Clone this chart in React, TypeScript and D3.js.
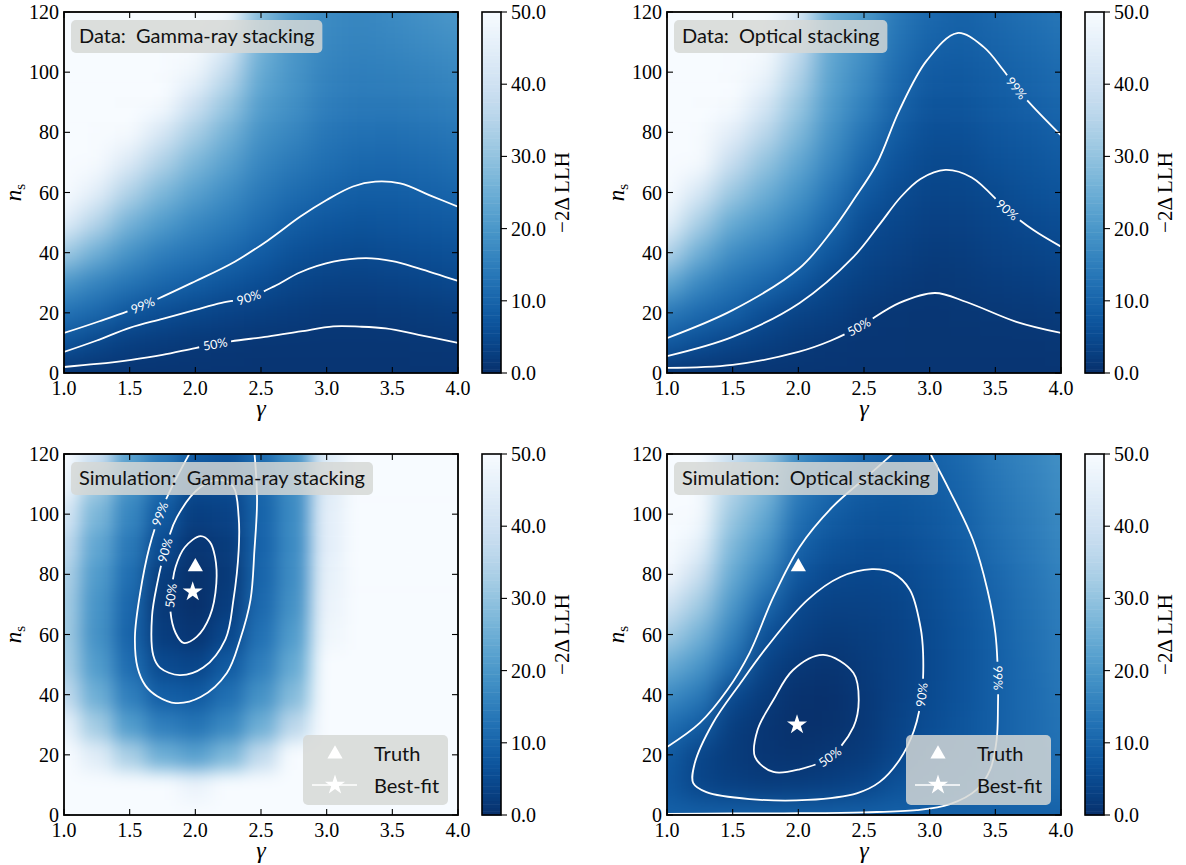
import React, { useEffect, useRef } from 'react';
import * as d3 from 'd3';

// grid of the likelihood scans
const gammaGrid = [1.0, 1.25, 1.5, 1.75, 2.0, 2.25, 2.5, 2.75, 3.0, 3.25, 3.5, 3.75, 4.0];
const nsGrid = [0, 10, 20, 30, 40, 50, 60, 70, 80, 90, 100, 110, 120];

const gammaTicks = [1.0, 1.5, 2.0, 2.5, 3.0, 3.5, 4.0];
const nsTicks = [0, 20, 40, 60, 80, 100, 120];
const llhTicks = [0, 10, 20, 30, 40, 50];

// -2 dLLH: one row per gamma in gammaGrid, one value per ns in nsGrid
const dataGammaLLH = [
  [1, 6.8, 12.5, 20, 32, 45, 55, 62, 70, 75, 80, 85, 90],
  [1, 4.3, 10.5, 16, 25, 35, 45, 54, 63, 70, 76, 80, 85],
  [1, 2.7, 7.2, 13, 19, 26, 34, 43, 52, 60, 68, 74, 80],
  [1, 2.1, 5.6, 10.5, 15, 21, 27, 34, 42, 50, 58, 65, 72],
  [1, 1.6, 4.3, 8.8, 13, 17, 22, 27, 33, 40, 48, 55, 62],
  [1, 1.4, 3.5, 7, 11, 14.5, 18, 22, 26, 31, 37, 44, 51],
  [1, 1.2, 2.9, 5.6, 8.5, 11.5, 14, 16.5, 19, 21.5, 24, 26, 28],
  [1, 1.15, 2.3, 4.1, 6.2, 8.8, 11.5, 14, 16.5, 18.5, 19.5, 20, 20],
  [1, 1.1, 1.75, 3.4, 5.3, 7.5, 9.9, 12, 13.5, 15, 16, 17, 17.5],
  [1, 1.1, 1.75, 3.2, 4.9, 6.8, 8.7, 10.7, 12.5, 14, 15, 16, 16.5],
  [1, 1.15, 1.9, 3.5, 5.3, 7.1, 8.7, 10.6, 12.3, 14, 15.3, 16.5, 17.5],
  [1, 1.25, 2.2, 3.9, 5.8, 7.7, 9.3, 11.2, 12.9, 14.5, 16, 17.5, 18.8],
  [1, 1.39, 2.7, 4.5, 6.3, 8.2, 10.2, 12, 13.7, 15.3, 17, 18.5, 20],
];

const dataOpticalLLH = [
  [1, 8, 14, 24, 35, 46, 55, 62, 70, 76, 80, 84, 88],
  [1, 5.8, 11, 17, 25, 33, 42, 50, 58, 65, 72, 78, 83],
  [1, 3.9, 9.0, 13, 18, 24, 31, 38, 45, 52, 60, 66, 72],
  [1, 2.8, 5.6, 10.5, 15, 20, 25, 30, 36, 42, 48, 53, 58],
  [1, 1.8, 3.6, 7.5, 11.5, 15.5, 19.5, 23.5, 27.5, 31, 35, 39, 43],
  [1, 1.35, 2.8, 4.3, 7.2, 10.5, 13.5, 16.5, 19, 21, 22.5, 23.5, 24],
  [1, 1.15, 1.6, 3.0, 4.1, 5.5, 7.9, 10.5, 13, 15.5, 17.5, 19, 20.5],
  [1, 1.1, 1.3, 2.1, 3.3, 4.2, 5.3, 6.7, 8.4, 10, 11.5, 12.8, 14],
  [1, 1.05, 1.2, 1.5, 2.2, 3.1, 4.0, 4.9, 5.9, 7.0, 8.3, 9.7, 11],
  [1, 1.05, 1.25, 1.8, 2.5, 3.3, 4.1, 5.0, 6.0, 7.0, 8.0, 9.0, 9.5],
  [1, 1.1, 1.45, 2.3, 3.2, 3.9, 4.9, 6.3, 7.3, 8.2, 9.0, 10.0, 11.0],
  [1, 1.15, 1.7, 2.7, 3.7, 4.8, 6.0, 7.0, 8.1, 9.2, 10.2, 11.2, 12.2],
  [1, 1.25, 2.0, 3.2, 4.4, 5.6, 6.8, 8.1, 9.2, 10.3, 11.4, 12.5, 13.5],
];

const simGammaLLH = [
  [75, 66, 56, 46, 37, 33, 32, 32.5, 34, 37, 42, 48, 55],
  [70, 62, 44, 32, 25, 21, 19, 19.5, 21, 23.5, 27, 32, 40],
  [65, 58, 33, 21, 15, 11.5, 10, 10.5, 12, 14, 16.5, 19.5, 22],
  [60, 51, 25, 15, 8.8, 4.9, 2.5, 1.7, 2.6, 5.2, 8.0, 11.5, 15],
  [60, 47, 22, 13, 8.0, 4.0, 1.2, 0.1, 0.3, 1.2, 2.8, 5.2, 8.5],
  [65, 53, 27, 17, 12, 8.0, 4.4, 2.5, 1.8, 2.2, 3.5, 5.2, 7],
  [70, 60, 37, 25, 19, 15, 12.5, 11, 10.2, 9.8, 9.9, 10.5, 11.5],
  [75, 68, 50, 36, 28, 24, 21, 19, 18, 17.5, 17.5, 18, 19],
  [80, 75, 66, 58, 53, 50, 48, 47, 46, 45, 45, 44, 44],
  [80, 80, 80, 80, 80, 80, 80, 80, 80, 80, 80, 80, 80],
  [80, 80, 80, 80, 80, 80, 80, 80, 80, 80, 80, 80, 80],
  [80, 80, 80, 80, 80, 80, 80, 80, 80, 80, 80, 80, 80],
  [80, 80, 80, 80, 80, 80, 80, 80, 80, 80, 80, 80, 80],
];

const simOpticalLLH = [
  [9.3, 7.5, 8.4, 12, 18, 25, 33, 41, 49, 55, 60, 65, 70],
  [9.3, 4.0, 3.9, 8.8, 14, 20, 26, 32, 39, 46, 52, 57, 62],
  [9.3, 2.8, 2.0, 2.6, 5.0, 11.5, 16, 20, 24, 27, 31, 35, 39],
  [9.3, 2.2, 1.2, 1.1, 2.0, 3.6, 6.0, 11, 16, 20, 24, 28, 32],
  [9.3, 2.4, 0.7, 0.05, 0.4, 1.5, 3.2, 4.5, 7.3, 9.6, 12.5, 15, 18],
  [9.3, 2.8, 1.3, 0.3, 0.2, 0.9, 2.1, 3.4, 4.8, 6.6, 8.8, 11, 13.5],
  [9.3, 4.0, 2.1, 1.6, 1.6, 2.0, 2.6, 3.4, 4.4, 5.6, 7.0, 8.6, 10.5],
  [9.3, 6.5, 4.2, 3.6, 3.2, 3.2, 3.5, 4.0, 4.8, 5.8, 6.8, 7.8, 8.8],
  [9.3, 7.8, 6.5, 5.6, 5.0, 4.8, 5.0, 5.5, 6.1, 6.9, 7.8, 8.6, 9.3],
  [9.3, 8.6, 7.6, 7.0, 6.7, 6.6, 6.8, 7.3, 7.9, 8.6, 9.3, 10.2, 11.2],
  [9.3, 9.5, 9.4, 9.05, 8.95, 8.95, 9.15, 9.8, 10.6, 11.5, 12.4, 13.3, 14.2],
  [9.3, 10.5, 10.8, 11, 11.2, 11.4, 11.8, 12.4, 13.1, 13.8, 14.6, 15.4, 16.2],
  [9.3, 11.5, 12.2, 12.8, 13.3, 13.8, 14.4, 15, 15.7, 16.4, 17.1, 17.8, 18.5],
];

// contour lines [gamma, ns]
const dataGamma50 = [[1.0, 2.0], [1.25, 3.0], [1.5, 4.3], [1.75, 6.0], [2.0, 8.3], [2.25, 10.4], [2.55, 12.1], [2.8, 13.8], [3.05, 15.5], [3.25, 15.4], [3.45, 14.8], [3.7, 12.7], [4.0, 10.0]];
const dataGamma90 = [[1.0, 7.0], [1.25, 10.8], [1.5, 15.0], [1.75, 18.0], [2.0, 21.0], [2.2, 23.3], [2.4, 25.0], [2.6, 28.8], [2.8, 33.5], [3.05, 37.0], [3.3, 38.2], [3.5, 37.2], [3.7, 34.8], [4.0, 30.6]];
const dataGamma99 = [[1.0, 13.3], [1.27, 17.2], [1.6, 22.5], [2.0, 30.5], [2.3, 37.0], [2.55, 44.0], [2.8, 52.0], [3.0, 57.5], [3.2, 62.0], [3.37, 63.6], [3.56, 63.0], [3.8, 58.8], [4.0, 55.3]];

const dataOptical50 = [[1.0, 1.7], [1.5, 2.7], [2.0, 7.0], [2.25, 10.8], [2.46, 15.3], [2.77, 23.3], [3.04, 26.6], [3.28, 23.6], [3.66, 17.0], [4.0, 13.3]];
const dataOptical90 = [[1.0, 5.6], [1.5, 12.0], [2.01, 23.3], [2.42, 38.6], [2.62, 49.5], [2.78, 58.5], [2.93, 64.5], [3.12, 67.5], [3.32, 65.0], [3.59, 54.2], [3.79, 47.5], [4.0, 42.0]];
const dataOptical99 = [[1.0, 11.6], [1.5, 20.9], [2.01, 34.9], [2.26, 47.5], [2.42, 57.5], [2.6, 69.8], [2.77, 87.4], [2.98, 104], [3.21, 113], [3.41, 108.4], [3.56, 100.7], [3.66, 94.7], [3.79, 88.4], [4.0, 79.0]];

const simGamma50 = [[2.04, 92.7], [2.11, 90.8], [2.15, 85.8], [2.16, 77], [2.11, 66], [2.01, 59.2], [1.91, 57.2], [1.85, 60.5], [1.81, 68], [1.82, 75], [1.85, 82.5], [1.92, 89]];
const simGamma90 = [[2.19, 111.4], [2.29, 109], [2.33, 99], [2.33, 88], [2.29, 71.5], [2.23, 58.5], [2.06, 49], [1.88, 46.5], [1.73, 49], [1.68, 53], [1.67, 66], [1.71, 77], [1.77, 88], [1.86, 99], [2.04, 109]];
const simGamma99 = [[1.96, 120.5], [1.81, 108], [1.73, 100], [1.65, 89], [1.58, 73.8], [1.54, 59.2], [1.56, 49], [1.62, 43], [1.71, 39.5], [1.85, 37.2], [2.04, 39.2], [2.24, 47.2], [2.34, 58.2], [2.42, 71.5], [2.45, 88], [2.47, 104.7], [2.45, 120.5]];

const simOptical50 = [[2.19, 53.2], [2.42, 47.2], [2.46, 38.2], [2.42, 29.3], [2.24, 19.3], [2.01, 15.2], [1.81, 14.3], [1.67, 19.3], [1.69, 28.3], [1.81, 38.2], [1.96, 48.2]];
const simOptical90 = [[2.56, 81.7], [2.72, 80.4], [2.85, 74.8], [2.93, 62.5], [2.95, 53.8], [2.94, 40], [2.88, 28], [2.77, 18.3], [2.62, 11], [2.45, 7.3], [2.07, 5.0], [1.63, 5.3], [1.3, 7.6], [1.2, 10.6], [1.21, 17], [1.35, 30.6], [1.56, 43.9], [1.76, 55.8], [2.07, 71.5], [2.32, 79.1]];
const simOptical99a = [[1.0, 22.6], [1.25, 30.6], [1.46, 41.6], [1.63, 54], [1.81, 72.5], [2.01, 89.1], [2.26, 102.4], [2.52, 112.4], [2.73, 120.5]];
const simOptical99b = [[3.0, 120.5], [3.15, 108], [3.33, 91.4], [3.44, 74.8], [3.5, 60.5], [3.52, 45.5], [3.52, 36], [3.51, 25], [3.46, 15], [3.36, 8.5], [3.15, 3.5], [2.9, 1.6], [2.5, 0.9], [2.0, 0.6], [1.5, 0.5], [1.0, 0.4]];

const truthPoint = [2.0, 82.5];
const simGammaBest = [1.98, 74.2];
const simOpticalBest = [1.99, 30.0];

const panels = [
  {
    prefix: 'Data:', name: 'Gamma-ray stacking', grid: dataGammaLLH, legend: false, blur: 12,
    contours: [
      { pts: dataGamma50, closed: false, label: '50%', at: [2.15, 9.6] },
      { pts: dataGamma90, closed: false, label: '90%', at: [2.41, 24.8] },
      { pts: dataGamma99, closed: false, label: '99%', at: [1.6, 22.4] },
    ],
  },
  {
    prefix: 'Data:', name: 'Optical stacking', grid: dataOpticalLLH, legend: false, blur: 12,
    contours: [
      { pts: dataOptical50, closed: false, label: '50%', at: [2.46, 15.3] },
      { pts: dataOptical90, closed: false, label: '90%', at: [3.59, 54.2] },
      { pts: dataOptical99, closed: false, label: '99%', at: [3.66, 94.7] },
    ],
  },
  {
    prefix: 'Simulation:', name: 'Gamma-ray stacking', grid: simGammaLLH, legend: true, best: simGammaBest, blur: 9,
    contours: [
      { pts: simGamma50, closed: true, label: '50%', at: [1.81, 73] },
      { pts: simGamma90, closed: true, label: '90%', at: [1.77, 88] },
      { pts: simGamma99, closed: false, label: '99%', at: [1.73, 100] },
    ],
  },
  {
    prefix: 'Simulation:', name: 'Optical stacking', grid: simOpticalLLH, legend: true, best: simOpticalBest, blur: 12,
    contours: [
      { pts: simOptical50, closed: true, label: '50%', at: [2.24, 19.3] },
      { pts: simOptical90, closed: true, label: '90%', at: [2.94, 40] },
      { pts: simOptical99a, closed: false, label: null, at: null },
      { pts: simOptical99b, closed: false, label: '99%', at: [3.52, 45.5] },
    ],
  },
];

export default function App() {
  const ref = useRef<SVGSVGElement>(null);

  useEffect(() => {
    document.body.style.margin = '0';
    const svg = d3.select(ref.current);
    svg.selectAll('*').remove();

    const W = 394;
    const H = 361;
    const serif = "'Liberation Serif', 'DejaVu Serif', serif";
    const sans = "Lato, 'DejaVu Sans', sans-serif";
    const color = d3.scaleSequential((t: number) => d3.interpolateBlues(1 - t)).domain([0, 50]).clamp(true);

    const defs = svg.append('defs');

    const x = d3.scaleLinear().domain([1, 4]).range([0, W]);
    const y = d3.scaleLinear().domain([0, 120]).range([H, 0]);

    const xEdge = (i: number) => {
      const last = gammaGrid.length - 1;
      const a = i === 0 ? x(gammaGrid[0]) - 50 : x((gammaGrid[i - 1] + gammaGrid[i]) / 2);
      const b = i === last ? x(gammaGrid[last]) + 50 : x((gammaGrid[i] + gammaGrid[i + 1]) / 2);
      return [a, b];
    };
    const yEdge = (j: number) => {
      const last = nsGrid.length - 1;
      const a = j === 0 ? y(nsGrid[0]) + 50 : y((nsGrid[j - 1] + nsGrid[j]) / 2);
      const b = j === last ? y(nsGrid[last]) - 50 : y((nsGrid[j] + nsGrid[j + 1]) / 2);
      return [b, a];
    };

    const txt = (sel: any, size: number, family: string) =>
      sel.style('font-family', family).style('font-size', `${size}px`);

    panels.forEach((p, k) => {
      const left = k % 2 === 0 ? 64 : 667;
      const top = k < 2 ? 12 : 454;
      const g = svg.append('g').attr('transform', `translate(${left},${top})`);

      defs.append('clipPath').attr('id', `clip${k}`)
        .append('rect').attr('width', W).attr('height', H);
      defs.append('filter').attr('id', `smooth${k}`)
        .attr('x', '-10%').attr('y', '-10%').attr('width', '120%').attr('height', '120%')
        .attr('color-interpolation-filters', 'sRGB')
        .append('feGaussianBlur').attr('stdDeviation', p.blur).attr('edgeMode', 'duplicate');

      // heat map
      const cells = p.grid.flatMap((col, i) => col.map((v, j) => ({ i, j, v })));
      g.append('g').attr('clip-path', `url(#clip${k})`)
        .append('g').attr('filter', `url(#smooth${k})`)
        .selectAll('rect')
        .data(cells)
        .join('rect')
        .attr('x', (d) => xEdge(d.i)[0])
        .attr('width', (d) => xEdge(d.i)[1] - xEdge(d.i)[0] + 0.5)
        .attr('y', (d) => yEdge(d.j)[0])
        .attr('height', (d) => yEdge(d.j)[1] - yEdge(d.j)[0] + 0.5)
        .attr('fill', (d) => color(d.v));

      // contours with inline labels
      const cg = g.append('g').attr('clip-path', `url(#clip${k})`);
      p.contours.forEach((c) => {
        const line = d3.line()
          .x((d: number[]) => x(d[0]))
          .y((d: number[]) => y(d[1]))
          .curve(c.closed ? d3.curveCatmullRomClosed : d3.curveCatmullRom);
        const path = cg.append('path')
          .attr('d', line(c.pts as any))
          .attr('fill', 'none')
          .attr('stroke', 'white')
          .attr('stroke-width', 1.8);
        if (!c.label) return;
        const node = path.node() as SVGPathElement;
        const total = node.getTotalLength();
        const lx = x(c.at[0]);
        const ly = y(c.at[1]);
        let best = 0;
        let bestD = Infinity;
        for (let s = 0; s <= total; s += 0.5) {
          const pt = node.getPointAtLength(s);
          const dd = (pt.x - lx) ** 2 + (pt.y - ly) ** 2;
          if (dd < bestD) { bestD = dd; best = s; }
        }
        const p1 = node.getPointAtLength(Math.max(0, best - 5));
        const p2 = node.getPointAtLength(Math.min(total, best + 5));
        let ang = (Math.atan2(p2.y - p1.y, p2.x - p1.x) * 180) / Math.PI;
        if (ang > 90) ang -= 180;
        if (ang < -90) ang += 180;
        const cpt = node.getPointAtLength(best);
        const t = txt(cg.append('text'), 12.5, sans)
          .attr('transform', `translate(${cpt.x},${cpt.y}) rotate(${ang})`)
          .attr('text-anchor', 'middle')
          .attr('dy', '0.36em')
          .attr('fill', 'white')
          .text(c.label);
        const gap = (t.node() as SVGTextElement).getComputedTextLength() + 8;
        path.attr('stroke-dasharray', `${best - gap / 2} ${gap} ${total}`);
      });

      // truth and best fit markers
      if (p.legend) {
        g.append('path')
          .attr('transform', `translate(${x(truthPoint[0])},${y(truthPoint[1])})`)
          .attr('d', d3.symbol(d3.symbolTriangle, 100)())
          .attr('fill', 'white');
        g.append('path')
          .attr('transform', `translate(${x(p.best[0])},${y(p.best[1])})`)
          .attr('d', d3.symbol(d3.symbolStar, 125)())
          .attr('fill', 'white');
      }

      // title box
      const tb = g.append('g').attr('transform', 'translate(7,8)');
      const rect = tb.append('rect').attr('height', 33).attr('rx', 5)
        .attr('fill', '#d5d8d5').attr('fill-opacity', 0.84);
      const title = txt(tb.append('text'), 20, sans).attr('x', 8).attr('y', 23).attr('fill', '#111');
      title.append('tspan').text(p.prefix);
      title.append('tspan').attr('dx', 5).text(' ' + p.name);
      rect.attr('width', (title.node() as SVGTextElement).getComputedTextLength() + 21);

      // legend
      if (p.legend) {
        const lg = g.append('g').attr('transform', `translate(${W - 155},${H - 80})`);
        lg.append('rect').attr('width', 145).attr('height', 70).attr('rx', 5)
          .attr('fill', '#d5d8d5').attr('fill-opacity', 0.84);
        lg.append('path').attr('transform', 'translate(32,19)')
          .attr('d', d3.symbol(d3.symbolTriangle, 100)()).attr('fill', 'white');
        lg.append('line').attr('x1', 9).attr('x2', 54).attr('y1', 50).attr('y2', 50)
          .attr('stroke', 'white').attr('stroke-width', 1.7);
        lg.append('path').attr('transform', 'translate(32,50)')
          .attr('d', d3.symbol(d3.symbolStar, 125)()).attr('fill', 'white');
        txt(lg.append('text'), 20, sans).attr('x', 71).attr('y', 26).attr('fill', '#111').text('Truth');
        txt(lg.append('text'), 20, sans).attr('x', 71).attr('y', 58).attr('fill', '#111').text('Best-fit');
      }

      // frame and ticks
      g.append('rect').attr('width', W).attr('height', H)
        .attr('fill', 'none').attr('stroke', 'black').attr('stroke-width', 1.8);
      const tk = g.append('g').attr('stroke', 'black').attr('stroke-width', 1.1);
      gammaTicks.forEach((v) => {
        tk.append('line').attr('x1', x(v)).attr('x2', x(v)).attr('y1', H).attr('y2', H - 6);
        tk.append('line').attr('x1', x(v)).attr('x2', x(v)).attr('y1', 0).attr('y2', 6);
      });
      nsTicks.forEach((v) => {
        tk.append('line').attr('y1', y(v)).attr('y2', y(v)).attr('x1', 0).attr('x2', 6);
        tk.append('line').attr('y1', y(v)).attr('y2', y(v)).attr('x1', W).attr('x2', W - 6);
      });
      g.append('g').selectAll('text').data(gammaTicks).join('text')
        .style('font-family', serif).style('font-size', '20px')
        .attr('x', (d) => x(d)).attr('y', H + 22)
        .attr('text-anchor', 'middle')
        .text((d) => d3.format('.1f')(d));
      g.append('g').selectAll('text').data(nsTicks).join('text')
        .style('font-family', serif).style('font-size', '20px')
        .attr('x', -5).attr('y', (d) => y(d)).attr('dy', '0.35em')
        .attr('text-anchor', 'end')
        .text((d) => String(d));

      // axis titles
      txt(g.append('text'), 24, serif).attr('x', W / 2).attr('y', H + 43).attr('text-anchor', 'middle')
        .style('font-style', 'italic').text('γ');
      const yl = txt(g.append('text'), 23, serif)
        .attr('transform', `translate(${-43},${H / 2}) rotate(-90)`)
        .attr('text-anchor', 'middle');
      yl.append('tspan').style('font-style', 'italic').text('n');
      yl.append('tspan').attr('dy', 4).style('font-size', '15px').text('s');

      // colour bar
      const cb = svg.append('g').attr('transform', `translate(${left + W + 24},${top})`);
      const cy = d3.scaleLinear().domain([0, 50]).range([H, 0]);
      const steps = d3.range(0, 50, 0.5);
      cb.append('g').selectAll('rect').data(steps).join('rect')
        .attr('x', 0).attr('width', 19)
        .attr('y', (d) => cy(d + 0.5)).attr('height', (d) => cy(d) - cy(d + 0.5) + 0.5)
        .attr('fill', (d) => color(d + 0.25));
      cb.append('rect').attr('width', 19).attr('height', H)
        .attr('fill', 'none').attr('stroke', 'black').attr('stroke-width', 1.6);
      llhTicks.forEach((v) => {
        cb.append('line').attr('x1', 19).attr('x2', 25).attr('y1', cy(v)).attr('y2', cy(v))
          .attr('stroke', 'black').attr('stroke-width', 1.1);
        txt(cb.append('text'), 20, serif).attr('x', 29).attr('y', cy(v)).attr('dy', '0.35em')
          .text(d3.format('.1f')(v));
      });
      txt(cb.append('text'), 21, serif)
        .attr('transform', `translate(${87},${H / 2}) rotate(-90)`)
        .attr('text-anchor', 'middle')
        .text('−2Δ LLH');
    });
  }, []);

  return <svg ref={ref} width={1186} height={865} style={{ display: 'block', background: 'white' }} />;
}
